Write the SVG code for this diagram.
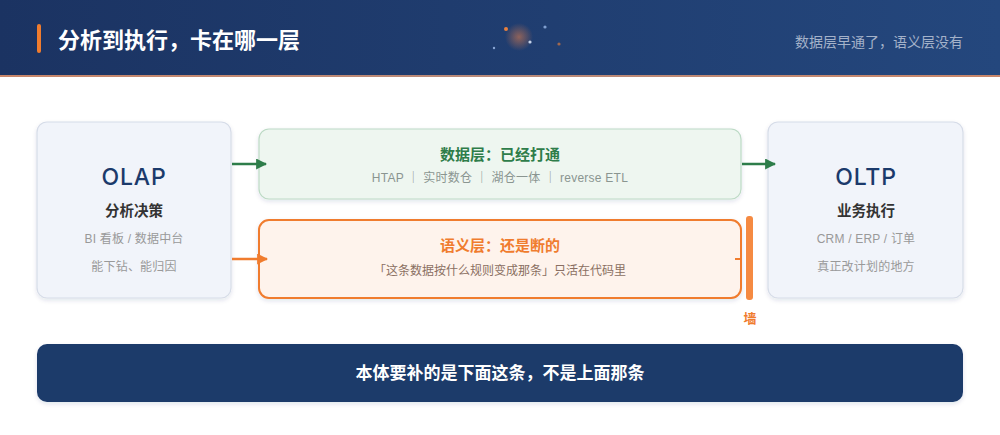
<svg xmlns="http://www.w3.org/2000/svg" width="1000" height="435" viewBox="0 0 1000 435">
<defs>
<linearGradient id="hdr" x1="0" y1="0" x2="1" y2="0">
<stop offset="0" stop-color="#1b3362"/>
<stop offset="1" stop-color="#24477d"/>
</linearGradient>
<linearGradient id="hline" x1="0" y1="0" x2="1" y2="0">
<stop offset="0" stop-color="#c8866a"/>
<stop offset="0.5" stop-color="#b88a7a"/>
<stop offset="1" stop-color="#c8866a"/>
</linearGradient>
<radialGradient id="glow" cx="0.5" cy="0.5" r="0.5">
<stop offset="0" stop-color="#e8804a" stop-opacity="0.55"/>
<stop offset="1" stop-color="#e8804a" stop-opacity="0"/>
</radialGradient>
<filter id="sh" x="-10%" y="-10%" width="120%" height="130%">
<feDropShadow dx="0" dy="2" stdDeviation="2" flood-color="#1b3362" flood-opacity="0.12"/>
</filter>
<marker id="ag" viewBox="0 0 10 10" refX="9" refY="5" markerWidth="4.4" markerHeight="4.4" orient="auto">
<path d="M0,0 L10,5 L0,10 z" fill="#2e7d4a"/>
</marker>
<marker id="ao" viewBox="0 0 10 10" refX="9" refY="5" markerWidth="4.4" markerHeight="4.4" orient="auto">
<path d="M0,0 L10,5 L0,10 z" fill="#f07c2e"/>
</marker>
<style>
text{font-family:"Liberation Sans","Noto Sans CJK SC",sans-serif;text-anchor:middle}
.sys{fill:#f1f4fa;stroke:#d6dce8;stroke-width:1.2}
.big{font-family:Inter,"Liberation Sans",sans-serif;font-size:23px;font-weight:500;letter-spacing:0.8px;fill:#1b3a6b}
.sub{font-size:14.5px;font-weight:700;fill:#333}
.note{font-size:12px;fill:#999;letter-spacing:0.2px}
.gt{font-size:15px;font-weight:700;fill:#2e7d4a}
.ot{font-size:15px;font-weight:700;fill:#f07c2e}
.gn{font-size:12px;fill:#8a9590;letter-spacing:0.25px}
.on{font-size:12px;fill:#8a6f62}
</style>
</defs>
<rect x="0" y="0" width="1000" height="435" fill="#ffffff"/>
<g id="header">
<rect x="0" y="0" width="1000" height="76" fill="url(#hdr)"/>
<rect x="0" y="75" width="1000" height="2" fill="url(#hline)"/>
<rect x="37" y="24" width="4" height="29" rx="2" fill="#f07c2e"/>
<text x="58" y="48" style="text-anchor:start;font-size:22px;font-weight:700;fill:#ffffff">分析到执行，卡在哪一层</text>
<text x="963" y="47" style="text-anchor:end;font-size:14px;fill:#a4b2c9">数据层早通了，语义层没有</text>
<circle cx="519" cy="37" r="14" fill="url(#glow)"/>
<circle cx="506" cy="29" r="2" fill="#e8803e"/>
<circle cx="545" cy="27" r="1.6" fill="#7f9fd0"/>
<circle cx="530" cy="42" r="1.6" fill="#c4d2ea"/>
<circle cx="494" cy="48" r="1.2" fill="#8aa6d4"/>
<circle cx="559" cy="44" r="1.6" fill="#a0684e"/>
</g>
<g id="olap">
<rect class="sys" x="37" y="122" width="194" height="176" rx="10" filter="url(#sh)"/>
<text class="big" x="134" y="185">OLAP</text>
<text class="sub" x="134" y="216">分析决策</text>
<text class="note" x="134" y="243">BI 看板 / 数据中台</text>
<text class="note" x="134" y="271">能下钻、能归因</text>
</g>
<g id="data-layer">
<rect x="259" y="129" width="482" height="70" rx="10" fill="#eef6f0" stroke="#bcdac5" stroke-width="1.2" filter="url(#sh)"/>
<text class="gt" x="500" y="160">数据层：已经打通</text>
<text class="gn" x="500" y="182">HTAP ｜ 实时数仓 ｜ 湖仓一体 ｜ reverse ETL</text>
</g>
<g id="semantic-layer">
<rect x="259" y="220" width="482" height="78" rx="10" fill="#fef3ec" stroke="#f07c2e" stroke-width="2" filter="url(#sh)"/>
<text class="ot" x="500" y="251">语义层：还是断的</text>
<text class="on" x="500" y="275">「这条数据按什么规则变成那条」只活在代码里</text>
</g>
<g id="wall">
<rect x="746" y="216" width="7" height="84" rx="3" fill="#f58a42"/>
<text x="750" y="323" style="font-size:13px;font-weight:700;fill:#f07c2e">墙</text>
</g>
<g id="oltp">
<rect class="sys" x="768" y="122" width="195" height="176" rx="10" filter="url(#sh)"/>
<text class="big" x="866" y="185">OLTP</text>
<text class="sub" x="866" y="216">业务执行</text>
<text class="note" x="866" y="243">CRM / ERP / 订单</text>
<text class="note" x="866" y="271">真正改计划的地方</text>
</g>
<g id="conclusion">
<rect x="37" y="344" width="926" height="58" rx="10" fill="#1c3a6b" filter="url(#sh)"/>
<text x="500" y="379" style="font-size:17px;font-weight:700;fill:#ffffff">本体要补的是下面这条，不是上面那条</text>
</g>
<g id="connectors">
<line x1="232" y1="164" x2="266" y2="164" stroke="#2e7d4a" stroke-width="2.5" marker-end="url(#ag)"/>
<line x1="742" y1="164" x2="775" y2="164" stroke="#2e7d4a" stroke-width="2.5" marker-end="url(#ag)"/>
<line x1="232" y1="259" x2="267" y2="259" stroke="#f07c2e" stroke-width="2.5" marker-end="url(#ao)"/>
<line x1="735" y1="259" x2="740" y2="259" stroke="#f07c2e" stroke-width="2"/>
</g>
</svg>
